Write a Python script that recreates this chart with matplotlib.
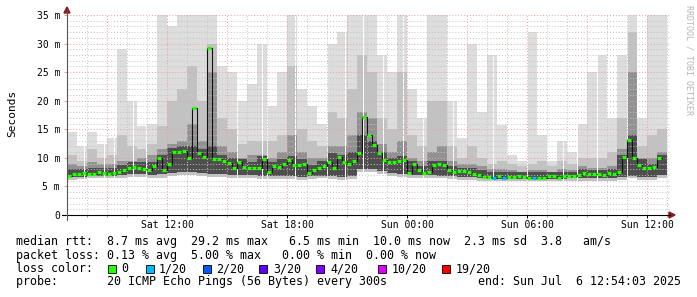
import matplotlib
matplotlib.use("Agg")
import matplotlib.pyplot as plt
from matplotlib.patches import Rectangle, Polygon
from matplotlib.lines import Line2D

plt.rcParams["font.family"] = "DejaVu Sans Mono"

W, H = 697, 297

# median rtt (ms), one value per 15 min step, first step starts Sat 07:00
median_ms = [
    6.85, 7.1, 7.1, 7.4, 7.1, 7.25, 7.5, 7.3, 7.25, 7.4,
    7.6, 7.8, 8.2, 8.4, 8.2, 8.1, 7.8, 8.6, 10.0, 7.8,
    9.0, 11.0, 11.0, 11.2, 9.9, 18.8, 10.8, 10.2, 29.2, 9.8,
    9.8, 9.4, 9.1, 8.2, 9.2, 8.4, 8.2, 8.3, 8.3, 9.8,
    7.5, 8.5, 8.4, 9.0, 9.6, 8.7, 8.7, 9.0, 7.4, 7.8,
    8.3, 8.6, 9.3, 8.3, 10.2, 9.2, 9.0, 9.5, 10.9, 17.2,
    14.0, 12.3, 10.9, 9.6, 9.2, 9.3, 9.4, 9.6, 7.4, 9.0,
    7.8, 7.4, 7.5, 8.7, 9.0, 8.8, 7.9, 7.5, 7.7, 7.7,
    7.6, 7.2, 7.0, 6.6, 6.7, 6.4, 6.85, 6.55, 6.6, 6.7,
    6.8, 6.7, 6.5, 6.4, 6.55, 6.55, 6.8, 6.8, 6.4, 6.85,
    6.8, 6.8, 7.0, 7.4, 7.25, 7.25, 7.25, 7.0, 7.3, 7.1,
    7.6, 10.2, 13.2, 10.0, 8.8, 8.3, 8.25, 8.4, 10.0,
]
# lost pings (of 20) for the steps that had any loss
lost_pings = {85: 1, 87: 1, 93: 1}

# smoke (ping spread, ms), one value per 30 min column
smoke_max = [
    14.5, 12.0, 14.5, 12.5, 13.5, 29.0, 20.0, 15.5, 16.0, 35.0,
    33.0, 35.0, 35.0, 35.0, 35.0, 26.0, 25.0, 20.0, 23.0, 30.0,
    19.0, 25.0, 35.0, 22.0, 19.0, 16.0, 30.0, 32.0, 35.0, 35.0,
    35.0, 28.0, 25.0, 35.0, 22.0, 17.0, 35.0, 35.0, 20.0, 13.5,
    30.0, 18.0, 28.0, 15.7, 10.5, 9.5, 32.0, 14.0, 9.5, 13.0,
    11.0, 16.0, 25.0, 28.0, 17.0, 28.0, 35.0, 17.0, 35.0, 35.0,
]
smoke_upper = [
    10.5, 9.5, 11.5, 10.0, 10.5, 14.0, 12.0, 11.5, 12.5, 15.5,
    20.0, 22.0, 26.0, 20.0, 30.0, 17.0, 15.0, 12.5, 13.0, 13.0,
    13.0, 14.0, 26.0, 15.0, 13.0, 12.0, 18.0, 17.0, 22.0, 28.0,
    25.0, 17.0, 15.0, 25.0, 14.0, 12.0, 20.0, 20.0, 12.0, 10.0,
    12.0, 10.0, 9.0, 9.5, 9.0, 8.5, 9.0, 9.5, 8.5, 9.5,
    9.0, 10.0, 10.0, 10.0, 11.0, 17.0, 32.0, 12.0, 14.0, 15.0,
]
smoke_inner = [
    9.0, 8.5, 9.2, 9.0, 9.0, 9.5, 9.5, 10.0, 10.5, 11.5,
    12.5, 13.0, 16.0, 13.0, 25.0, 12.0, 11.0, 10.0, 10.5, 10.5,
    10.0, 11.0, 14.0, 11.0, 10.0, 10.0, 12.0, 12.0, 14.0, 18.0,
    17.0, 12.5, 11.0, 13.0, 10.0, 9.5, 11.0, 12.0, 9.5, 9.0,
    9.0, 8.5, 8.0, 8.0, 7.8, 7.6, 7.8, 7.8, 7.6, 8.0,
    7.8, 8.5, 8.3, 8.2, 8.5, 11.5, 25.0, 10.0, 10.0, 11.0,
]
smoke_core = [
    8.0, 8.0, 8.2, 8.3, 8.3, 8.8, 9.2, 9.3, 9.2, 10.5,
    11.8, 12.0, 12.0, 11.5, 12.0, 10.5, 10.0, 9.8, 9.3, 10.3,
    9.2, 9.8, 10.3, 9.8, 8.8, 9.5, 10.8, 10.5, 11.0, 14.0,
    13.0, 11.0, 10.0, 10.3, 9.5, 8.5, 9.5, 9.5, 8.5, 8.3,
    8.3, 7.8, 7.5, 7.5, 7.5, 7.5, 7.5, 7.5, 7.5, 7.5,
    7.5, 8.0, 7.8, 7.8, 8.0, 10.5, 14.0, 9.8, 9.0, 10.5,
]
# bottom of the darker bands
smoke_low = [
    6.6, 6.7, 6.8, 6.9, 6.8, 7.0, 7.1, 7.1, 7.0, 7.1,
    7.3, 7.6, 7.6, 7.3, 7.1, 7.1, 7.0, 7.0, 7.0, 6.8,
    6.8, 6.8, 6.8, 6.7, 6.8, 6.9, 6.8, 6.7, 6.9, 8.0,
    8.0, 7.7, 7.3, 7.2, 7.0, 7.0, 7.0, 6.9, 6.8, 6.7,
    6.6, 6.4, 6.3, 6.3, 6.3, 6.3, 6.3, 6.3, 6.3, 6.3,
    6.4, 6.5, 6.5, 6.5, 6.5, 6.7, 6.9, 6.7, 6.7, 7.0,
]
smoke_min = [
    6.2, 6.3, 6.4, 6.5, 6.4, 6.5, 6.6, 6.6, 6.5, 6.5,
    6.8, 7.0, 7.0, 6.8, 6.6, 6.6, 6.5, 6.5, 6.5, 6.3,
    6.3, 6.3, 6.3, 6.2, 6.3, 6.4, 6.3, 6.2, 6.3, 7.5,
    7.5, 7.2, 6.8, 6.7, 6.5, 6.5, 6.5, 6.4, 6.3, 6.2,
    6.2, 6.0, 6.0, 6.0, 6.0, 6.0, 6.0, 6.0, 6.0, 6.0,
    6.0, 6.0, 6.0, 6.0, 6.0, 6.2, 6.4, 6.2, 6.2, 6.5,
]
# hours (since Sat 07:00) with a missing sample
gap_hours = [0.85, 1.85, 2.35, 3.3, 3.95, 8.5, 9.75, 10.0, 11.4, 13.0, 13.9,
             14.8, 15.8, 16.8, 17.8, 19.3, 21.3, 23.0, 24.8, 25.5, 26.5, 28.0]

tick_hours = [5, 11, 17, 23, 29]
tick_labels = ["Sat 12:00", "Sat 18:00", "Sun 00:00", "Sun 06:00", "Sun 12:00"]

loss_labels = ["0", "1/20", "2/20", "3/20", "4/20", "10/20", "19/20"]
loss_colors = ["#26ff00", "#00b8ff", "#0059ff", "#5e00ff", "#7e00ff", "#dd00ff", "#ff0000"]
loss_levels = [0, 1, 2, 3, 4, 10, 19]


def fx(x):
    return x / W


def fy(y):
    return 1 - y / H


fig = plt.figure(figsize=(W / 100, H / 100), dpi=100)
ax = fig.add_axes([fx(67), fy(215), (670 - 67) / W, 200 / H])
ax.set_xlim(0, 30.15)
ax.set_ylim(0, 35)
for s in ax.spines.values():
    s.set_visible(False)

# smoke columns, lightest (widest) first
step_s = 0.5
xs = [i * step_s for i in range(len(smoke_max))]
layers = [(smoke_max, smoke_min, "#dddddd"), (smoke_upper, smoke_min, "#c2c2c2"),
          (smoke_inner, smoke_low, "#929292"), (smoke_core, smoke_low, "#4e4e4e")]
for top, bottom, col in layers:
    ax.bar(xs, [t - b for t, b in zip(top, bottom)], bottom=bottom,
           width=step_s, align="edge", color=col, linewidth=0, zorder=1)
for g in gap_hours:
    ax.axvspan(g, g + 0.06, color="white", lw=0, zorder=1.5)

# grid
for h in range(0, 31):
    major = (h - 2) % 3 == 0
    ax.axvline(h, color="#e8a0a0" if major else "#c4c4c4", lw=0.7,
               ls=(0, (1, 2)), zorder=2)
for v in range(1, 36):
    major = v % 5 == 0
    ax.axhline(v, color="#e8a0a0" if major else "#c4c4c4", lw=0.7,
               ls=(0, (1, 2)), zorder=2)

# median line
step_m = 0.25
mx = [i * step_m for i in range(len(median_ms))]
ax.step(mx + [len(median_ms) * step_m], median_ms + [median_ms[-1]], where="post",
        color="#111111", lw=0.8, zorder=4)
for i, m in enumerate(median_ms):
    lost = lost_pings.get(i, 0)
    c = loss_colors[max(k for k, lv in enumerate(loss_levels) if lv <= lost)]
    ax.hlines(m, mx[i], mx[i] + step_m * 0.75, color=c, lw=2.3, zorder=5)

# ticks
ax.set_xticks(tick_hours)
ax.set_xticklabels(tick_labels)
ax.set_xticks(range(0, 31), minor=True)
ax.set_yticks(range(0, 36, 5))
ax.set_yticklabels(["0"] + [f"{v} m" for v in range(5, 36, 5)])
ax.tick_params(axis="x", which="major", length=2.2, width=0.7, pad=1.5,
               labelsize=7, colors="black")
ax.tick_params(axis="x", which="minor", length=1.4, width=0.6, color="#888888")
ax.tick_params(axis="y", which="major", length=2.2, width=0.7, pad=2.8,
               labelsize=7, color="#e8a0a0", labelcolor="black")

fig.text(fx(12), fy(113), "Seconds", rotation=90, ha="center", va="center", fontsize=8)

# axes with arrows
fig.add_artist(Line2D([fx(62), fx(670)], [fy(215), fy(215)], color="black", lw=0.8))
fig.add_artist(Line2D([fx(67), fx(67)], [fy(220), fy(10)], color="#555555", lw=0.8))
fig.add_artist(Polygon([(fx(64), fy(13)), (fx(70), fy(13)), (fx(67), fy(7))],
                       closed=True, color="#8b1a1a"))
fig.add_artist(Polygon([(fx(669), fy(212)), (fx(669), fy(218)), (fx(675), fy(215))],
                       closed=True, color="#8b1a1a"))

fig.text(fx(689), fy(60), "RRDTOOL / TOBI OETIKER", rotation=270, ha="center",
         va="center", fontsize=6, color="#b5b5b5")

# legend
fs = 8.4
lines = [
    "median rtt:  8.7 ms avg  29.2 ms max   6.5 ms min  10.0 ms now  2.3 ms sd  3.8   am/s",
    "packet loss: 0.13 % avg  5.00 % max   0.00 % min  0.00 % now",
]
fig.text(fx(16), fy(245), lines[0], fontsize=fs, va="baseline")
fig.text(fx(16), fy(258.5), lines[1], fontsize=fs, va="baseline")
fig.text(fx(16), fy(272), "loss color:", fontsize=fs, va="baseline")
sq_x = [108, 146, 203, 259, 316, 378, 442]
lab_x = [121, 159, 216, 273, 330, 392, 456]
for sx, lx, lab, col in zip(sq_x, lab_x, loss_labels, loss_colors):
    fig.add_artist(Rectangle((fx(sx), fy(273)), 7.5 / W, 8 / H, facecolor=col,
                             edgecolor="black", lw=0.6))
    fig.text(fx(lx), fy(272), lab, fontsize=fs, va="baseline")
fig.text(fx(16), fy(285.5),
         "probe:       20 ICMP Echo Pings (56 Bytes) every 300s"
         "             end: Sun Jul  6 12:54:03 2025",
         fontsize=fs, va="baseline")

fig.savefig("out.png", dpi=100, facecolor="white")
